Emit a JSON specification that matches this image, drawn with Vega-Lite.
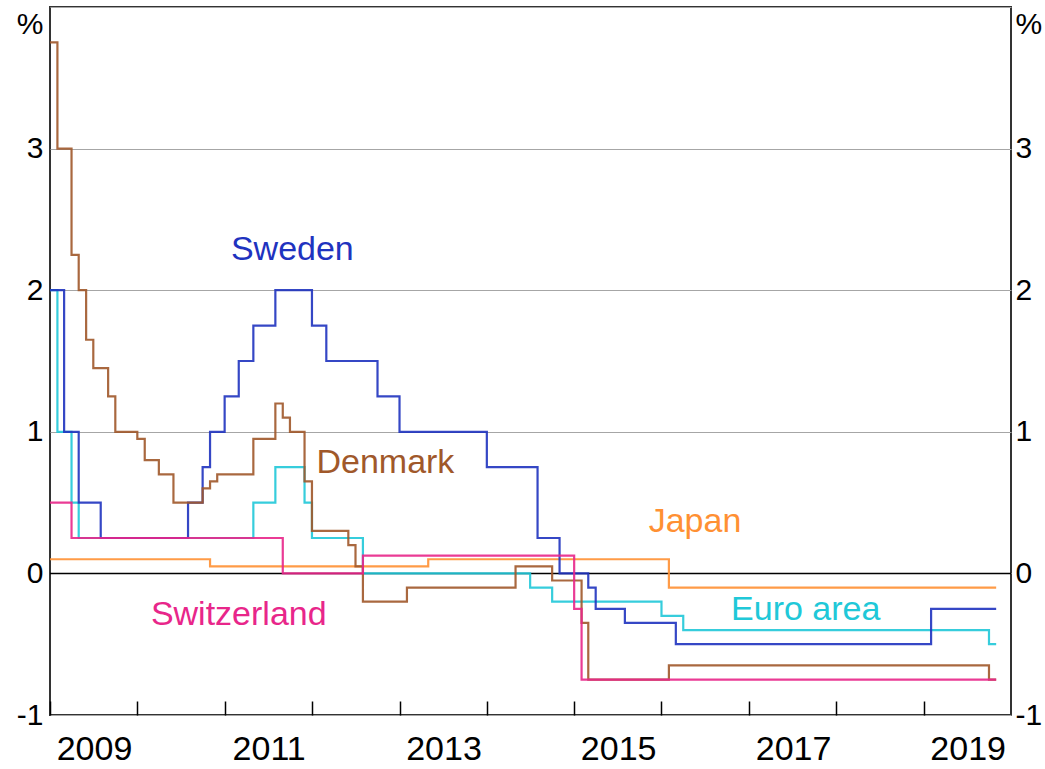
{
  "$schema": "https://vega.github.io/schema/vega-lite/v6.json",
  "width": 961,
  "height": 708,
  "autosize": {"type": "none"},
  "padding": {"left": 50, "top": 7, "right": 34, "bottom": 54},
  "background": "white",
  "config": {
    "view": {"stroke": "#333333", "strokeWidth": 2},
    "font": "Liberation Sans",
    "axis": {"labelFont": "Liberation Sans", "titleFont": "Liberation Sans", "labelColor": "black", "domain": false}
  },
  "datasets": {
    "zero": [{"value": 0}],
    "rates": [
      {"country": "Japan", "date": "2009-01-01", "value": 0.1},
      {"country": "Japan", "date": "2010-11-01", "value": 0.05},
      {"country": "Japan", "date": "2013-05-01", "value": 0.1},
      {"country": "Japan", "date": "2016-02-01", "value": -0.1},
      {"country": "Japan", "date": "2019-10-31", "value": -0.1},

      {"country": "Euro area", "date": "2009-01-01", "value": 2.0},
      {"country": "Euro area", "date": "2009-02-01", "value": 1.0},
      {"country": "Euro area", "date": "2009-04-01", "value": 0.5},
      {"country": "Euro area", "date": "2009-05-01", "value": 0.25},
      {"country": "Euro area", "date": "2011-05-01", "value": 0.5},
      {"country": "Euro area", "date": "2011-08-01", "value": 0.75},
      {"country": "Euro area", "date": "2011-12-01", "value": 0.5},
      {"country": "Euro area", "date": "2012-01-01", "value": 0.25},
      {"country": "Euro area", "date": "2012-08-01", "value": 0.0},
      {"country": "Euro area", "date": "2014-07-01", "value": -0.1},
      {"country": "Euro area", "date": "2014-10-01", "value": -0.2},
      {"country": "Euro area", "date": "2016-01-01", "value": -0.3},
      {"country": "Euro area", "date": "2016-04-01", "value": -0.4},
      {"country": "Euro area", "date": "2019-10-01", "value": -0.5},
      {"country": "Euro area", "date": "2019-10-31", "value": -0.5},

      {"country": "Sweden", "date": "2009-01-01", "value": 2.0},
      {"country": "Sweden", "date": "2009-03-01", "value": 1.0},
      {"country": "Sweden", "date": "2009-05-01", "value": 0.5},
      {"country": "Sweden", "date": "2009-08-01", "value": 0.25},
      {"country": "Sweden", "date": "2010-08-01", "value": 0.5},
      {"country": "Sweden", "date": "2010-10-01", "value": 0.75},
      {"country": "Sweden", "date": "2010-11-01", "value": 1.0},
      {"country": "Sweden", "date": "2011-01-01", "value": 1.25},
      {"country": "Sweden", "date": "2011-03-01", "value": 1.5},
      {"country": "Sweden", "date": "2011-05-01", "value": 1.75},
      {"country": "Sweden", "date": "2011-08-01", "value": 2.0},
      {"country": "Sweden", "date": "2012-01-01", "value": 1.75},
      {"country": "Sweden", "date": "2012-03-01", "value": 1.5},
      {"country": "Sweden", "date": "2012-10-01", "value": 1.25},
      {"country": "Sweden", "date": "2013-01-01", "value": 1.0},
      {"country": "Sweden", "date": "2014-01-01", "value": 0.75},
      {"country": "Sweden", "date": "2014-08-01", "value": 0.25},
      {"country": "Sweden", "date": "2014-11-01", "value": 0.0},
      {"country": "Sweden", "date": "2015-03-01", "value": -0.1},
      {"country": "Sweden", "date": "2015-04-01", "value": -0.25},
      {"country": "Sweden", "date": "2015-08-01", "value": -0.35},
      {"country": "Sweden", "date": "2016-03-01", "value": -0.5},
      {"country": "Sweden", "date": "2019-02-01", "value": -0.25},
      {"country": "Sweden", "date": "2019-10-31", "value": -0.25},

      {"country": "Denmark", "date": "2009-01-01", "value": 3.75},
      {"country": "Denmark", "date": "2009-02-01", "value": 3.0},
      {"country": "Denmark", "date": "2009-04-01", "value": 2.25},
      {"country": "Denmark", "date": "2009-05-01", "value": 2.0},
      {"country": "Denmark", "date": "2009-06-01", "value": 1.65},
      {"country": "Denmark", "date": "2009-07-01", "value": 1.45},
      {"country": "Denmark", "date": "2009-09-01", "value": 1.25},
      {"country": "Denmark", "date": "2009-10-01", "value": 1.0},
      {"country": "Denmark", "date": "2010-01-01", "value": 0.95},
      {"country": "Denmark", "date": "2010-02-01", "value": 0.8},
      {"country": "Denmark", "date": "2010-04-01", "value": 0.7},
      {"country": "Denmark", "date": "2010-06-01", "value": 0.5},
      {"country": "Denmark", "date": "2010-10-01", "value": 0.6},
      {"country": "Denmark", "date": "2010-11-01", "value": 0.65},
      {"country": "Denmark", "date": "2010-12-01", "value": 0.7},
      {"country": "Denmark", "date": "2011-05-01", "value": 0.95},
      {"country": "Denmark", "date": "2011-08-01", "value": 1.2},
      {"country": "Denmark", "date": "2011-09-01", "value": 1.1},
      {"country": "Denmark", "date": "2011-10-01", "value": 1.0},
      {"country": "Denmark", "date": "2011-12-01", "value": 0.65},
      {"country": "Denmark", "date": "2012-01-01", "value": 0.3},
      {"country": "Denmark", "date": "2012-06-01", "value": 0.2},
      {"country": "Denmark", "date": "2012-07-01", "value": 0.05},
      {"country": "Denmark", "date": "2012-08-01", "value": -0.2},
      {"country": "Denmark", "date": "2013-02-01", "value": -0.1},
      {"country": "Denmark", "date": "2014-05-01", "value": 0.05},
      {"country": "Denmark", "date": "2014-10-01", "value": -0.05},
      {"country": "Denmark", "date": "2015-02-01", "value": -0.35},
      {"country": "Denmark", "date": "2015-03-01", "value": -0.75},
      {"country": "Denmark", "date": "2016-02-01", "value": -0.65},
      {"country": "Denmark", "date": "2019-10-01", "value": -0.75},
      {"country": "Denmark", "date": "2019-10-31", "value": -0.75},

      {"country": "Switzerland", "date": "2009-01-01", "value": 0.5},
      {"country": "Switzerland", "date": "2009-04-01", "value": 0.25},
      {"country": "Switzerland", "date": "2011-09-01", "value": 0.0},
      {"country": "Switzerland", "date": "2012-08-01", "value": 0.125},
      {"country": "Switzerland", "date": "2015-01-01", "value": -0.25},
      {"country": "Switzerland", "date": "2015-02-01", "value": -0.75},
      {"country": "Switzerland", "date": "2019-10-31", "value": -0.75}
    ],
    "labels": [
      {"country": "Sweden", "label": "Sweden", "date": "2011-10-11", "value": 2.21},
      {"country": "Denmark", "label": "Denmark", "date": "2012-11-03", "value": 0.706},
      {"country": "Japan", "label": "Japan", "date": "2016-05-20", "value": 0.29},
      {"country": "Euro area", "label": "Euro area", "date": "2017-08-26", "value": -0.332},
      {"country": "Switzerland", "label": "Switzerland", "date": "2011-03-01", "value": -0.367}
    ]
  },
  "layer": [
    {
      "data": {"name": "zero"},
      "mark": {"type": "rule", "color": "black", "strokeWidth": 1.5},
      "encoding": {
        "y": {
          "field": "value", "type": "quantitative",
          "scale": {"domain": [-1, 4], "nice": false, "zero": false},
          "axis": {
            "orient": "left", "values": [-1, 0, 1, 2, 3, 4],
            "labelExpr": "datum.value == 4 ? '' : '' + datum.value",
            "ticks": false, "labelPadding": 7, "labelFontSize": 30,
            "grid": true, "gridColor": "#A6A6A6", "gridWidth": 1,
            "title": "%", "titleAngle": 0, "titleAlign": "right", "titleBaseline": "middle",
            "titleX": -7, "titleY": 17, "titleFontSize": 30, "titleFontWeight": "normal", "titleColor": "black"
          }
        }
      }
    },
    {
      "data": {"name": "rates"},
      "mark": {"type": "line", "interpolate": "step-after", "strokeWidth": 2.2, "strokeOpacity": 0.9},
      "encoding": {
        "x": {
          "field": "date", "type": "temporal",
          "scale": {"domain": [{"year": 2009, "month": 1, "date": 1}, {"year": 2020, "month": 1, "date": 1}]},
          "axis": {
            "values": [
              {"year": 2010, "month": 1, "date": 1}, {"year": 2011, "month": 1, "date": 1},
              {"year": 2012, "month": 1, "date": 1}, {"year": 2013, "month": 1, "date": 1},
              {"year": 2014, "month": 1, "date": 1}, {"year": 2015, "month": 1, "date": 1},
              {"year": 2016, "month": 1, "date": 1}, {"year": 2017, "month": 1, "date": 1},
              {"year": 2018, "month": 1, "date": 1}, {"year": 2019, "month": 1, "date": 1},
              {"year": 2009, "month": 1, "date": 1}
            ],
            "labelExpr": "year(datum.value) % 2 == 1 ? timeFormat(datum.value, '%Y') : ''",
            "tickSize": -14, "tickColor": "black", "tickWidth": 1.5,
            "labelOffset": 44, "labelPadding": 31, "labelFontSize": 34,
            "labelFlush": false, "labelOverlap": false, "labelBound": false,
            "grid": false, "title": null
          }
        },
        "y": {
          "field": "value", "type": "quantitative",
          "scale": {"domain": [-1, 4], "nice": false, "zero": false},
          "axis": {
            "orient": "right", "values": [-1, 0, 1, 2, 3, 4],
            "labelExpr": "datum.value == 4 ? '' : '' + datum.value",
            "ticks": false, "labelPadding": 4, "labelFontSize": 30, "grid": false,
            "title": "%", "titleAngle": 0, "titleAlign": "left", "titleBaseline": "middle",
            "titleX": 4, "titleY": 17, "titleFontSize": 30, "titleFontWeight": "normal", "titleColor": "black"
          }
        },
        "color": {
          "field": "country", "type": "nominal",
          "scale": {
            "domain": ["Sweden", "Denmark", "Japan", "Euro area", "Switzerland"],
            "range": ["#1F33BF", "#A0582A", "#FF9033", "#20C8D8", "#E8268A"]
          },
          "legend": null
        }
      }
    },
    {
      "data": {"name": "labels"},
      "mark": {"type": "text", "fontSize": 34, "align": "center", "baseline": "alphabetic", "font": "Liberation Sans"},
      "encoding": {
        "x": {"field": "date", "type": "temporal"},
        "y": {"field": "value", "type": "quantitative", "axis": null},
        "text": {"field": "label"},
        "color": {"field": "country", "type": "nominal", "legend": null}
      }
    }
  ],
  "resolve": {"axis": {"y": "independent"}}
}
